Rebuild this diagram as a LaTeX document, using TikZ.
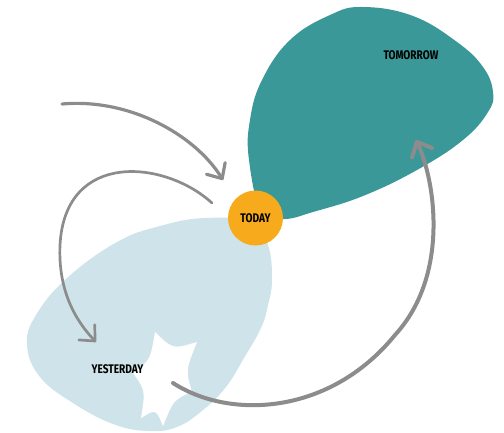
\documentclass[tikz,border=0pt]{standalone}
\usepackage{fontspec}
\newfontfamily\labelfont[FakeStretch=0.81]{Fira Sans}
\usetikzlibrary{arrows.meta}
\definecolor{tealblob}{HTML}{3B9898}
\definecolor{paleblob}{HTML}{CFE4EA}
\definecolor{sunorange}{HTML}{F6AA1C}
\definecolor{strokegray}{HTML}{8C8C8C}
\tikzset{
  blobtext/.style={font=\labelfont\bfseries\fontsize{12.5}{14}\selectfont, text=black, inner sep=0pt},
  flow/.style={draw=strokegray, line cap=round,
    -{Straight Barb[round,length=12pt,width=22pt]}},
}
\begin{document}
\begin{tikzpicture}[x=1pt,y=-1pt]
\useasboundingbox (0,0) rectangle (504,432);

% tomorrow: teal egg narrowing towards today
\fill[tealblob] plot[smooth cycle, tension=0.7] coordinates {
  (262,214) (249,160) (250,120) (262,80) (290,40) (330,15) (363,7)
  (413,16) (457,42) (483,67) (493,92) (488,112) (463,140) (417,170)
  (363,196) (313,212) (285,219)};

% yesterday: pale blue egg
\fill[paleblob] plot[smooth cycle, tension=0.7] coordinates {
  (252,222) (268,245) (272,280) (268,305) (261,328) (244,358) (226,387)
  (203,410) (177,427) (148,431) (113,424) (73,403) (40,377) (27,345)
  (36,315) (67,278) (117,242) (160,226) (205,218)};

% white star-shaped gap inside yesterday
\fill[white] (155,332) .. controls (172.7,349.3) .. (197,342)
  .. controls (185.6,370.3) .. (192,392)
  .. controls (173.7,399.7) .. (163,426)
  .. controls (155.9,408.8) .. (141,418)
  .. controls (145.4,390.3) .. (133,373)
  .. controls (150.3,360.2) .. cycle;

% today
\node[circle, fill=sunorange, minimum size=55pt, blobtext] (today) at (255.5,218) {TODAY};
\node[blobtext] (tomorrow) at (411,55) {TOMORROW};
\node[blobtext] (yesterday) at (117.5,369) {YESTERDAY};

% arrow ends
\coordinate (inA) at (62,104);
\coordinate (inAend) at (223,180);
\coordinate (backB) at (212,203);
\coordinate (backBend) at (96,342);
\coordinate (loopC) at (173,383);
\coordinate (loopCmid) at (395,335);
\coordinate (loopCend) at (416,140);

\draw[flow, line width=3.2pt] (inA) .. controls (130,98) and (195,135) .. (inAend);
\draw[flow, line width=2.7pt] (backB) .. controls (165,160) and (65,150) .. (60,245)
  .. controls (58,290) and (75,320) .. (backBend);
\draw[flow, line width=4pt] (loopC) .. controls (230,420) and (330,415) .. (loopCmid)
  .. controls (450,275) and (435,180) .. (loopCend);
\end{tikzpicture}
\end{document}
